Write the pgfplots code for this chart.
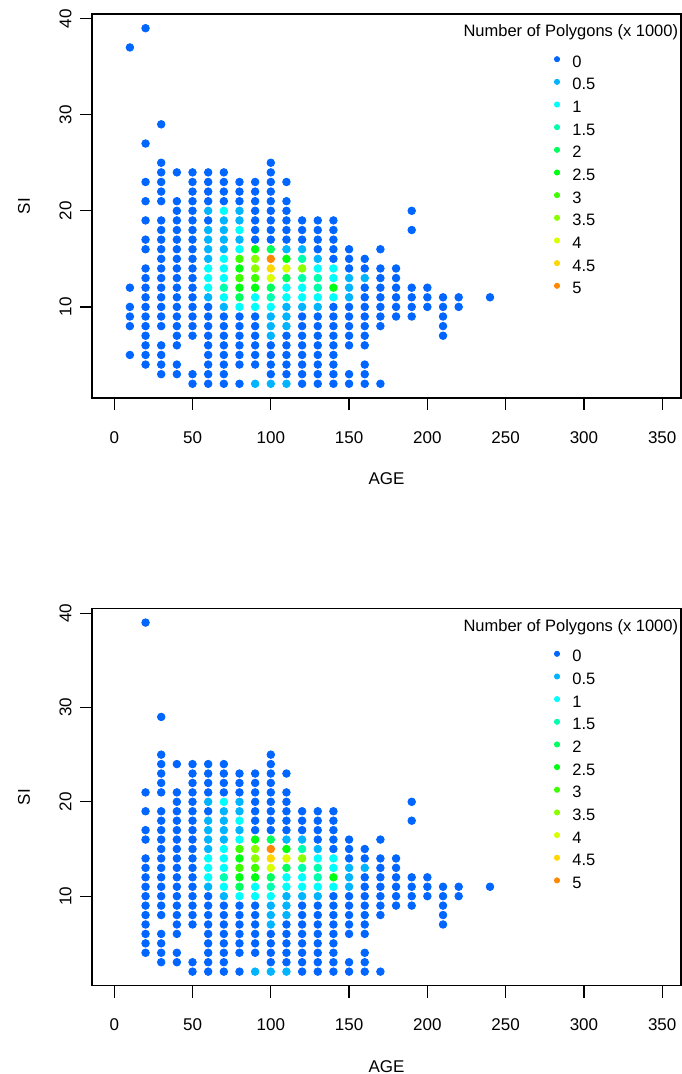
\documentclass[border=0pt]{standalone}
\usepackage{fontspec}
\setmainfont{Liberation Sans}
\usepackage{pgfplots}
\pgfplotsset{compat=1.18}
\usepackage{pgfplotstable}

\definecolor{c0}{RGB}{0,102,255}
\definecolor{c1}{RGB}{0,180,255}
\definecolor{c2}{RGB}{0,255,252}
\definecolor{c3}{RGB}{0,255,173}
\definecolor{c4}{RGB}{0,255,95}
\definecolor{c5}{RGB}{0,255,17}
\definecolor{c6}{RGB}{61,255,0}
\definecolor{c7}{RGB}{139,255,0}
\definecolor{c8}{RGB}{218,255,0}
\definecolor{c9}{RGB}{255,214,0}
\definecolor{c10}{RGB}{255,136,0}

% points present in both panels: AGE, SI, colour class (0 = 0, 1 = 0.5, ... 10 = 5 thousand polygons)
\pgfplotstableread[row sep=\\]{
x y c\\
20 39 0\\ 20 21 0\\ 20 19 0\\ 20 17 0\\ 20 16 0\\ 20 14 0\\ 20 13 0\\ 20 12 0\\ 20 11 0\\ 20 10 0\\ 20 9 0\\ 20 8 0\\ 20 7 0\\ 20 6 0\\ 20 5 0\\ 20 4 0\\
30 29 0\\ 30 25 0\\ 30 24 0\\ 30 23 0\\ 30 22 0\\ 30 21 0\\ 30 19 0\\ 30 18 0\\ 30 17 0\\ 30 16 0\\ 30 15 0\\ 30 14 0\\ 30 13 0\\ 30 12 0\\ 30 11 0\\ 30 10 0\\ 30 9 0\\ 30 8 0\\ 30 6 0\\ 30 5 0\\ 30 4 0\\ 30 3 0\\
40 24 0\\ 40 21 0\\ 40 20 0\\ 40 19 0\\ 40 18 0\\ 40 17 0\\ 40 16 0\\ 40 15 0\\ 40 14 0\\ 40 13 0\\ 40 12 0\\ 40 11 0\\ 40 10 0\\ 40 9 0\\ 40 8 0\\ 40 7 0\\ 40 6 0\\ 40 4 0\\ 40 3 0\\
50 24 0\\ 50 23 0\\ 50 22 0\\ 50 21 0\\ 50 20 0\\ 50 19 0\\ 50 18 0\\ 50 17 0\\ 50 16 0\\ 50 15 0\\ 50 14 0\\ 50 13 0\\ 50 12 0\\ 50 11 0\\ 50 10 0\\ 50 9 0\\ 50 8 0\\ 50 7 0\\ 50 3 0\\ 50 2 0\\
60 24 0\\ 60 23 0\\ 60 22 0\\ 60 21 0\\ 60 20 1\\ 60 19 0\\ 60 18 1\\ 60 17 1\\ 60 16 1\\ 60 15 1\\ 60 14 2\\ 60 13 2\\ 60 12 2\\ 60 11 1\\ 60 10 0\\ 60 9 0\\ 60 8 0\\ 60 7 0\\ 60 6 0\\ 60 5 0\\ 60 4 0\\ 60 3 0\\ 60 2 0\\
70 24 0\\ 70 23 0\\ 70 22 0\\ 70 21 0\\ 70 20 2\\ 70 19 1\\ 70 18 1\\ 70 17 1\\ 70 16 1\\ 70 15 2\\ 70 14 2\\ 70 13 2\\ 70 12 3\\ 70 11 2\\ 70 10 1\\ 70 9 0\\ 70 8 0\\ 70 7 0\\ 70 6 0\\ 70 5 0\\ 70 4 0\\ 70 3 0\\ 70 2 0\\
80 23 0\\ 80 22 0\\ 80 21 0\\ 80 20 1\\ 80 19 1\\ 80 18 2\\ 80 17 1\\ 80 16 2\\ 80 15 6\\ 80 14 5\\ 80 13 6\\ 80 12 5\\ 80 11 4\\ 80 10 2\\ 80 9 0\\ 80 8 0\\ 80 7 0\\ 80 6 0\\ 80 5 0\\ 80 4 0\\ 80 2 0\\
90 23 0\\ 90 22 0\\ 90 21 0\\ 90 20 0\\ 90 19 0\\ 90 18 0\\ 90 17 0\\ 90 16 5\\ 90 15 7\\ 90 14 7\\ 90 13 6\\ 90 12 5\\ 90 11 2\\ 90 10 2\\ 90 9 0\\ 90 8 0\\ 90 7 0\\ 90 6 0\\ 90 5 0\\ 90 4 0\\ 90 2 1\\
100 25 0\\ 100 24 0\\ 100 23 0\\ 100 22 0\\ 100 21 0\\ 100 20 0\\ 100 19 0\\ 100 18 0\\ 100 17 0\\ 100 16 4\\ 100 15 10\\ 100 14 9\\ 100 13 8\\ 100 12 4\\ 100 11 3\\ 100 10 2\\ 100 9 1\\ 100 8 1\\ 100 7 1\\ 100 6 0\\ 100 5 0\\ 100 4 0\\ 100 3 0\\ 100 2 1\\
110 23 0\\ 110 21 0\\ 110 20 0\\ 110 19 0\\ 110 18 0\\ 110 17 0\\ 110 16 1\\ 110 15 5\\ 110 14 8\\ 110 13 4\\ 110 12 2\\ 110 11 2\\ 110 10 1\\ 110 9 1\\ 110 8 1\\ 110 7 0\\ 110 6 0\\ 110 5 0\\ 110 4 0\\ 110 3 0\\ 110 2 1\\
120 19 0\\ 120 18 0\\ 120 17 0\\ 120 16 1\\ 120 15 3\\ 120 14 7\\ 120 13 3\\ 120 12 2\\ 120 11 2\\ 120 10 1\\ 120 9 0\\ 120 8 0\\ 120 7 0\\ 120 6 0\\ 120 5 0\\ 120 4 0\\ 120 3 0\\ 120 2 0\\
130 19 0\\ 130 18 0\\ 130 17 0\\ 130 16 0\\ 130 15 1\\ 130 14 2\\ 130 13 3\\ 130 12 3\\ 130 11 2\\ 130 10 1\\ 130 9 0\\ 130 8 0\\ 130 7 0\\ 130 6 0\\ 130 5 0\\ 130 4 0\\ 130 3 0\\ 130 2 0\\
140 19 0\\ 140 18 0\\ 140 17 0\\ 140 16 0\\ 140 15 0\\ 140 14 2\\ 140 13 2\\ 140 12 5\\ 140 11 2\\ 140 10 0\\ 140 9 0\\ 140 8 0\\ 140 7 0\\ 140 6 0\\ 140 5 0\\ 140 4 0\\ 140 3 0\\ 140 2 0\\
150 16 0\\ 150 15 0\\ 150 14 0\\ 150 13 1\\ 150 12 1\\ 150 11 1\\ 150 10 0\\ 150 9 0\\ 150 8 0\\ 150 7 0\\ 150 6 0\\ 150 3 0\\ 150 2 0\\
160 15 0\\ 160 14 0\\ 160 13 1\\ 160 12 0\\ 160 11 0\\ 160 10 0\\ 160 9 0\\ 160 8 0\\ 160 7 0\\ 160 6 0\\ 160 4 0\\ 160 3 0\\ 160 2 0\\
170 16 0\\ 170 14 0\\ 170 13 0\\ 170 12 0\\ 170 11 0\\ 170 10 0\\ 170 9 0\\ 170 8 0\\ 170 2 0\\
180 14 0\\ 180 13 0\\ 180 12 0\\ 180 11 0\\ 180 10 0\\ 180 9 0\\
190 20 0\\ 190 18 0\\ 190 12 0\\ 190 11 0\\ 190 10 0\\ 190 9 0\\
200 12 0\\ 200 11 0\\ 200 10 0\\
210 11 0\\ 210 10 0\\ 210 9 0\\ 210 8 0\\ 210 7 0\\
220 11 0\\ 220 10 0\\
240 11 0\\
}\common

% points only in the upper panel
\pgfplotstableread[row sep=\\]{
x y c\\
10 37 0\\ 10 12 0\\ 10 10 0\\ 10 9 0\\ 10 8 0\\ 10 5 0\\ 20 27 0\\ 20 23 0\\
}\topextra

\pgfplotsset{
  rstyle/.style={
    scale only axis, width=294.5pt,
    anchor=north west,
    xmin=-14.2, xmax=362, ymin=0.52, ymax=40.48,
    xtick={0,50,...,350}, ytick={10,20,30,40},
    tick align=outside, xtick pos=left, ytick pos=left,
    major tick length=6pt,
    axis line style={line width=0.6pt, black},
    major tick style={black, line width=0.6pt},
    tick label style={font=\fontsize{8.5}{10}\selectfont},
    /pgf/number format/assume math mode=true,
    xticklabel style={inner sep=0pt, anchor=north, yshift=-10.5pt},
    yticklabel style={xshift=-4pt, rotate=90, anchor=south, inner sep=0pt},
    xlabel={AGE}, ylabel={SI},
    label style={font=\fontsize{8.5}{10}\selectfont},
    xlabel style={at={([yshift=-40.5pt]axis description cs:0.5,0)}, anchor=center, inner sep=0pt},
    ylabel style={at={([xshift=-34pt]axis description cs:0,0.5)}, anchor=center, inner sep=0pt},
    colormap={rb}{rgb255=(0,102,255) rgb255=(0,180,255) rgb255=(0,255,252) rgb255=(0,255,173) rgb255=(0,255,95) rgb255=(0,255,17) rgb255=(61,255,0) rgb255=(139,255,0) rgb255=(218,255,0) rgb255=(255,214,0) rgb255=(255,136,0)},
    point meta min=0, point meta max=10,
    legend cell align=left,
    legend style={at={([xshift=231pt,yshift=-20.6pt]axis description cs:0,1)}, anchor=north west,
      draw=none, fill=none, inner sep=0pt, outer sep=0pt, column sep=6.2pt, row sep=5.33pt,
      font=\fontsize{8.25}{9}\selectfont,
      nodes={inner sep=0pt, text height=6pt, text depth=0pt}},
  },
  pts/.style={scatter, only marks, mark=*, mark size=1.9pt, scatter src=explicit, forget plot,
    scatter/use mapped color={draw=mapped color, fill=mapped color}},
  dot/.style={legend image code/.code={\fill[#1] (0pt,1pt) circle (1.3pt);}},
}

\newcommand{\rlegend}{%
  \addlegendimage{dot=c0}\addlegendentry{0}
  \addlegendimage{dot=c1}\addlegendentry{0.5}
  \addlegendimage{dot=c2}\addlegendentry{1}
  \addlegendimage{dot=c3}\addlegendentry{1.5}
  \addlegendimage{dot=c4}\addlegendentry{2}
  \addlegendimage{dot=c5}\addlegendentry{2.5}
  \addlegendimage{dot=c6}\addlegendentry{3}
  \addlegendimage{dot=c7}\addlegendentry{3.5}
  \addlegendimage{dot=c8}\addlegendentry{4}
  \addlegendimage{dot=c9}\addlegendentry{4.5}
  \addlegendimage{dot=c10}\addlegendentry{5}
  \node[anchor=base east, font=\fontsize{8.25}{9}\selectfont, inner sep=0pt]
    at ([xshift=-1.25pt, yshift=-11.5pt]axis description cs:1,1) {Number of Polygons (x 1000)};
}

\begin{document}
\begin{tikzpicture}
\useasboundingbox (0pt,0pt) rectangle (340.5pt,-537pt);
\begin{axis}[rstyle, at={(46pt,-7pt)}, height=192pt]
  \addplot[pts] table[x=x, y=y, meta=c] {\common};
  \addplot[pts] table[x=x, y=y, meta=c] {\topextra};
  \rlegend
\end{axis}
\begin{axis}[rstyle, at={(46pt,-304.3pt)}, height=188.5pt]
  \addplot[pts] table[x=x, y=y, meta=c] {\common};
  \rlegend
\end{axis}
\end{tikzpicture}
\end{document}
